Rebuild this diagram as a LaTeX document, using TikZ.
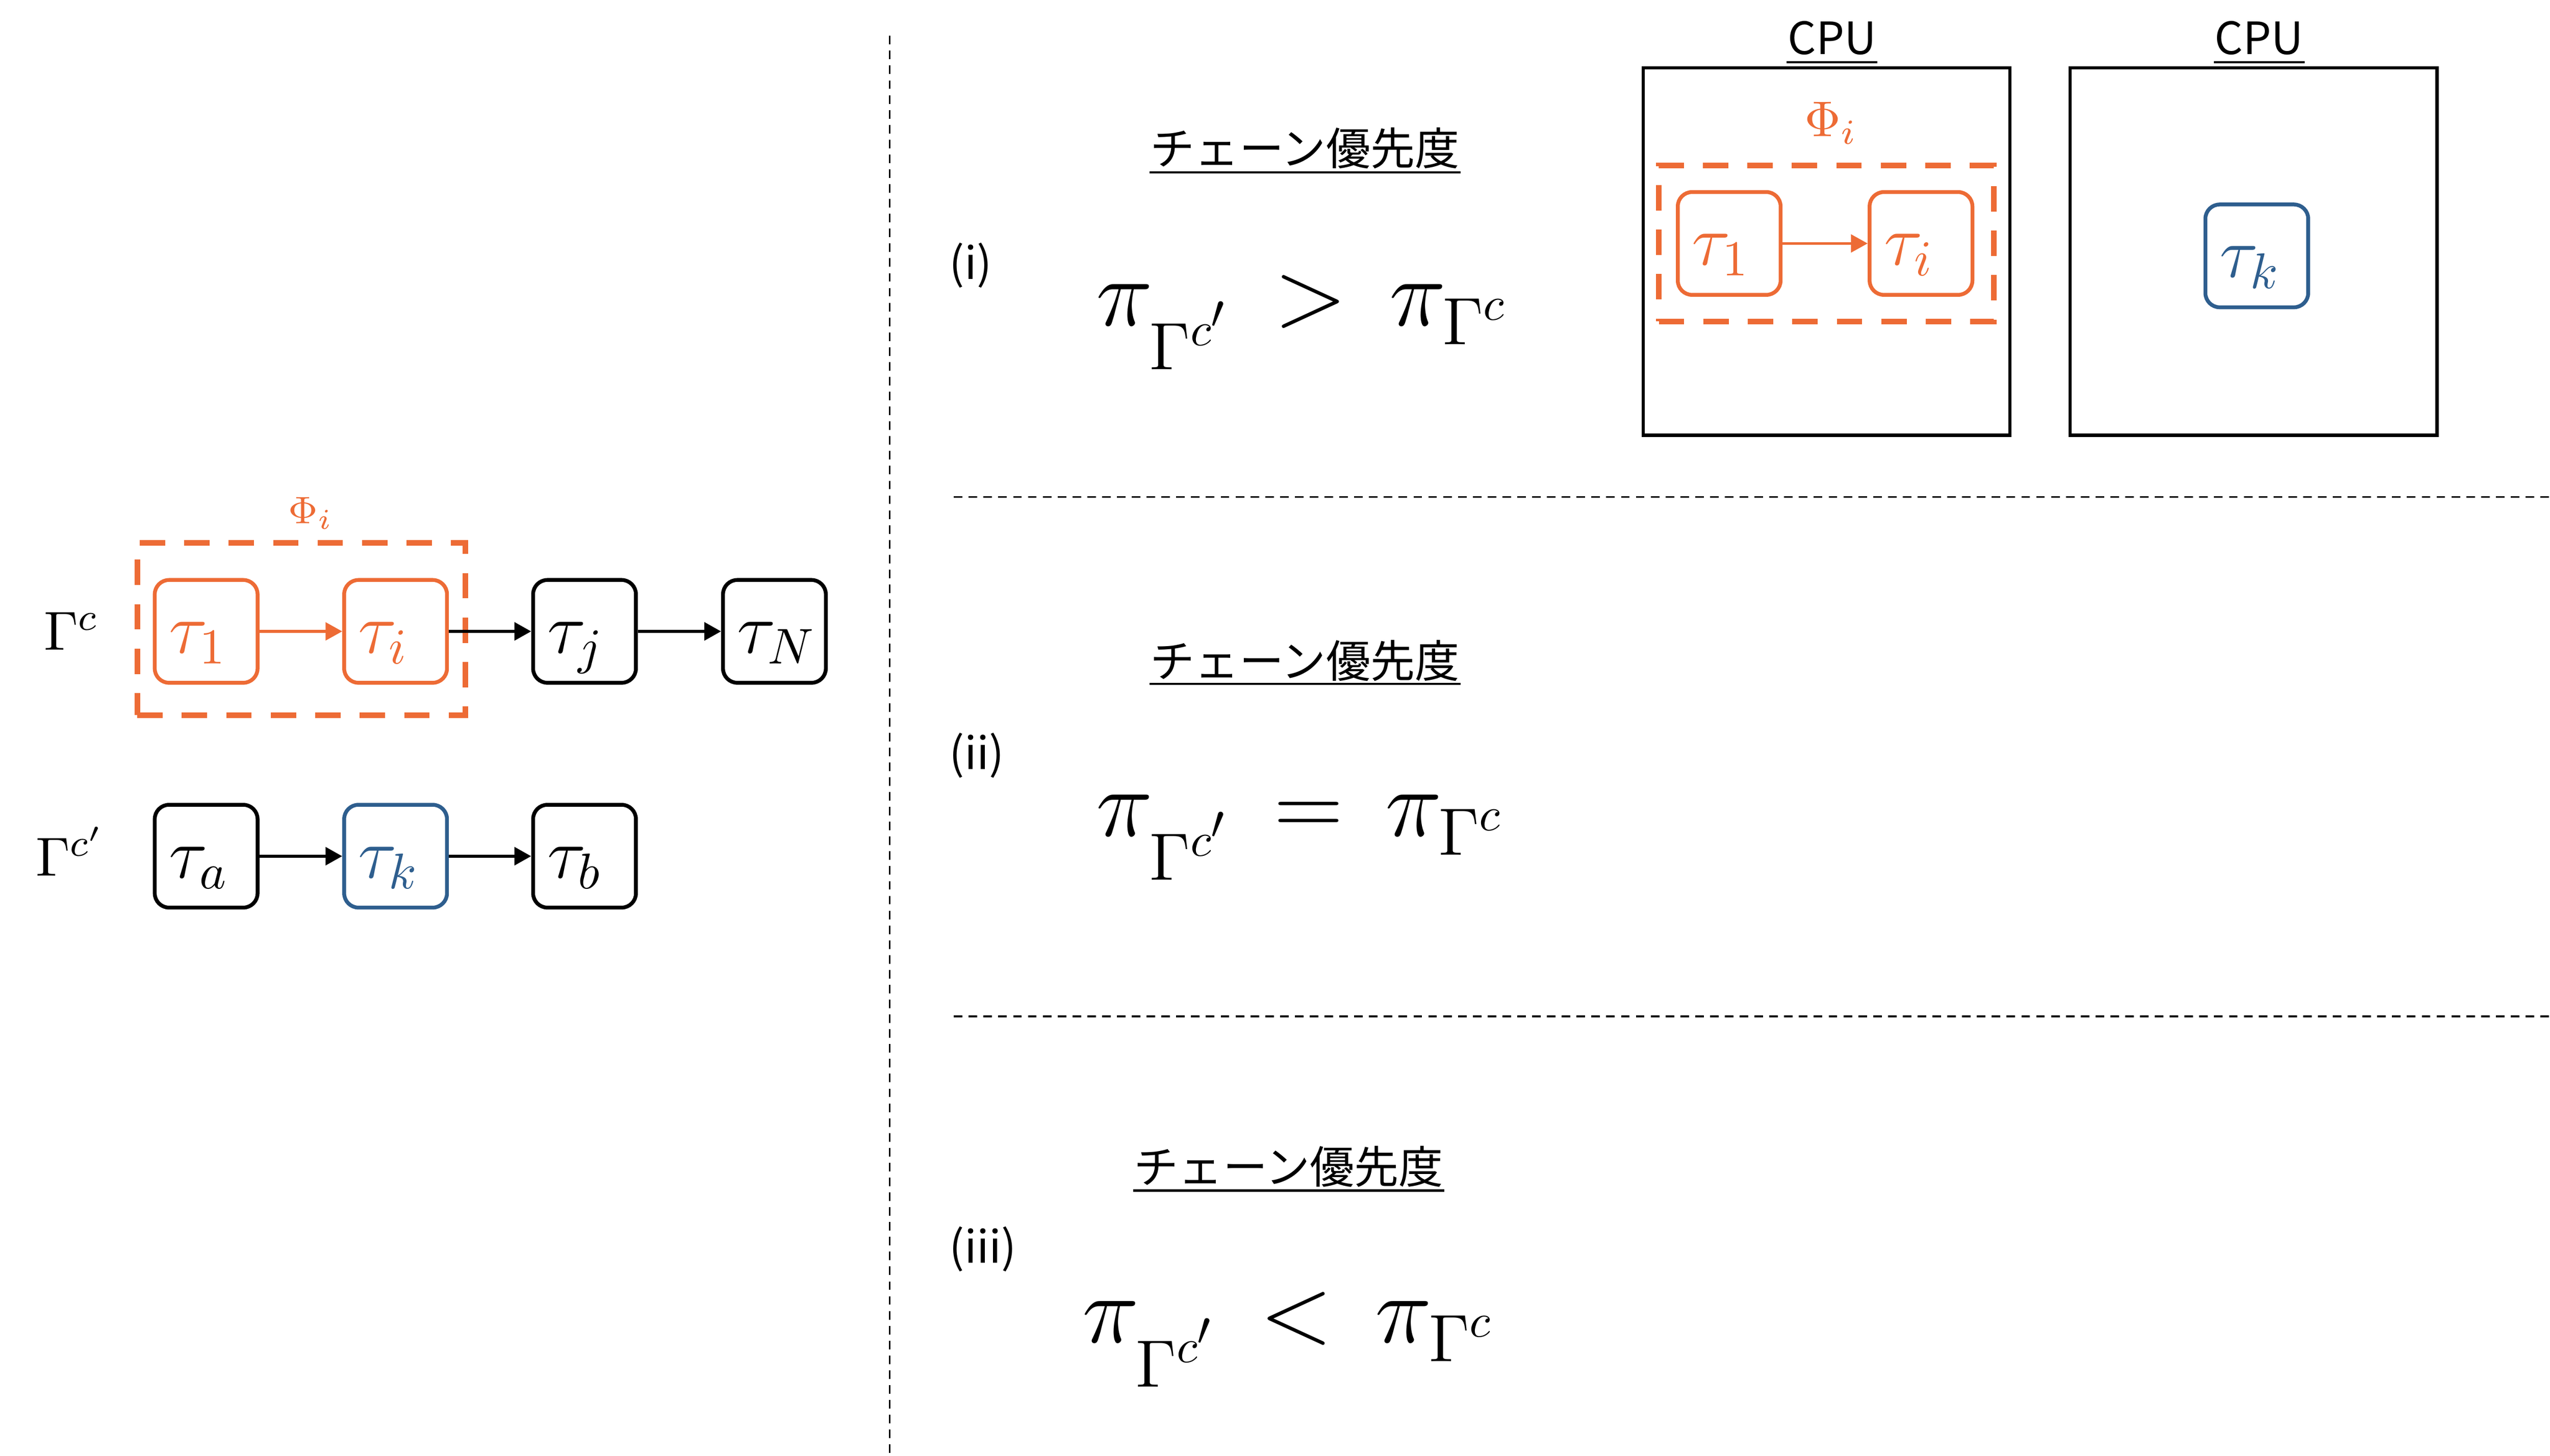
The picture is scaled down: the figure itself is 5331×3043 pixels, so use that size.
\RequirePackage{fix-cm}
\documentclass[tikz,border=0pt]{standalone}
\usepackage{fontspec}
\newfontfamily\jp{Noto Sans CJK JP}
\usetikzlibrary{arrows.meta}
\definecolor{tor}{RGB}{237,107,53}
\definecolor{tbl}{RGB}{46,94,142}
\tikzset{
  taskbox/.style={draw, line width=0.8pt, rounded corners=3pt, minimum width=21.5pt, minimum height=21.5pt,
    text width=15.5pt, align=left, inner xsep=3pt, inner ysep=0pt, text height=9pt, text depth=0pt,
    font=\fontsize{15}{18}\selectfont},
  arr/.style={-{Triangle[length=3.5pt,width=3.7pt]}, line width=0.7pt},
  phibox/.style={draw=tor, line width=1.2pt, dash pattern=on 5.3pt off 4pt, inner sep=0pt},
  sepline/.style={line width=0.4pt, dash pattern=on 1.8pt off 1.3pt},
  cpubox/.style={draw, line width=0.7pt, inner sep=0pt},
  jptext/.style={font=\jp\fontsize{9.3}{11}\selectfont, inner sep=0pt},
  ulin/.style={line width=0.45pt},
  formula/.style={anchor=base west, inner sep=0pt, font=\fontsize{20}{24}\selectfont},
  glabel/.style={anchor=base west, inner sep=0pt, font=\fontsize{11.5}{14}\selectfont}
}
\begin{document}
\begin{tikzpicture}[x=0.1pt,y=-0.1pt]
\useasboundingbox (0,0) rectangle (5331,3043);

% separators
\coordinate (v1) at (1860,75);
\coordinate (v2) at (1860,3043);
\draw[sepline] (v1) -- (v2);
\coordinate (h1a) at (1994,1039);
\coordinate (h1b) at (5331,1039);
\draw[sepline] (h1a) -- (h1b);
\coordinate (h2a) at (1994,2125);
\coordinate (h2b) at (5331,2125);
\draw[sepline] (h2a) -- (h2b);

% ---------- left chains ----------
\node[phibox, minimum width=68.6pt, minimum height=36pt] (phiL) at (630,1315) {};
\node[anchor=base, inner sep=0pt, text=tor, font=\fontsize{8}{10}\selectfont] (phiLl) at (650,1094) {$\Phi_i$};

\node[glabel] (gc) at (90,1359) {$\Gamma^c$};
\node[glabel] (gcp) at (73,1831) {$\Gamma^{c'}$};

\node[taskbox, draw=tor, text=tor] (t1) at (431,1320) {$\tau_1$};
\node[taskbox, draw=tor, text=tor] (ti) at (827,1320) {$\tau_i$};
\node[taskbox] (tj) at (1222,1320) {$\tau_j$};
\node[taskbox] (tN) at (1619,1320) {$\tau_N$};
\draw[arr, tor, line width=0.6pt] (t1) -- (ti);
\draw[arr] (ti) -- (tj);
\draw[arr] (tj) -- (tN);

\node[taskbox] (ta) at (431,1790) {$\tau_a$};
\node[taskbox, draw=tbl, text=tbl] (tk) at (827,1790) {$\tau_k$};
\node[taskbox] (tb) at (1222,1790) {$\tau_b$};
\draw[arr] (ta) -- (tk);
\draw[arr] (tk) -- (tb);

% ---------- case labels ----------
\node[jptext, anchor=west] (c1) at (1983,555) {(i)};
\node[jptext, anchor=west] (c2) at (1983,1579) {(ii)};
\node[jptext, anchor=west] (c3) at (1983,2612) {(iii)};

\node[jptext, anchor=base] (p1) at (2728,345) {チェーン優先度};
\draw[ulin] ([yshift=-1.5pt]p1.base west) -- ([yshift=-1.5pt]p1.base east);
\node[jptext, anchor=base] (p2) at (2728,1416) {チェーン優先度};
\draw[ulin] ([yshift=-1.4pt]p2.base west) -- ([yshift=-1.4pt]p2.base east);
\node[jptext, anchor=base] (p3) at (2694,2474) {チェーン優先度};
\draw[ulin] ([yshift=-1.5pt]p3.base west) -- ([yshift=-1.5pt]p3.base east);

\node[formula] (f1) at (2290,681) {$\pi_{\smash{\raisebox{-6.2pt}{$\scriptstyle\Gamma^{c'}$}}}\,>\,\pi_{\smash{\raisebox{-0.9pt}{$\scriptstyle\Gamma^{c}$}}}$};
\node[formula] (f2) at (2290,1748) {$\pi_{\smash{\raisebox{-6.2pt}{$\scriptstyle\Gamma^{c'}$}}}\,=\,\pi_{\smash{\raisebox{-0.9pt}{$\scriptstyle\Gamma^{c}$}}}$};
\node[formula] (f3) at (2261,2807) {$\pi_{\smash{\raisebox{-6.2pt}{$\scriptstyle\Gamma^{c'}$}}}\,<\,\pi_{\smash{\raisebox{-0.9pt}{$\scriptstyle\Gamma^{c}$}}}$};

% ---------- CPUs ----------
\node[cpubox, minimum width=76.7pt, minimum height=76.8pt] (cpu1) at (3818.5,526) {};
\node[cpubox, minimum width=76.7pt, minimum height=76.8pt] (cpu2) at (4711,526) {};
\node[jptext, anchor=base] (cl1) at (3830,114) {CPU};
\draw[ulin] ([yshift=-1.6pt]cl1.base west) -- ([yshift=-1.6pt]cl1.base east);
\node[jptext, anchor=base] (cl2) at (4723,114) {CPU};
\draw[ulin] ([yshift=-1.6pt]cl2.base west) -- ([yshift=-1.6pt]cl2.base east);

\node[phibox, minimum width=70pt, minimum height=32.6pt] (phiR) at (3818,509) {};
\node[anchor=base, inner sep=0pt, text=tor, font=\fontsize{10.5}{12}\selectfont] (phiRl) at (3828,285) {$\Phi_i$};
\node[taskbox, draw=tor, text=tor] (r1) at (3615,509) {$\tau_1$};
\node[taskbox, draw=tor, text=tor] (ri) at (4016,509) {$\tau_i$};
\draw[arr, tor, line width=0.6pt] (r1) -- (ri);
\node[taskbox, draw=tbl, text=tbl] (rk) at (4718,535) {$\tau_k$};
\end{tikzpicture}
\end{document}
